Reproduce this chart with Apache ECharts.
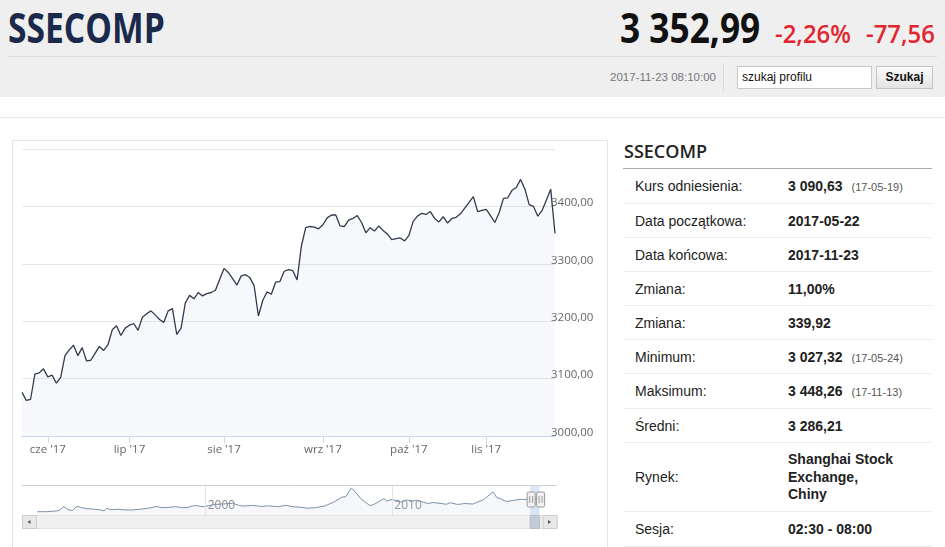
<!DOCTYPE html>
<html><head><meta charset="utf-8">
<script src="https://cdn.jsdelivr.net/npm/echarts@6/dist/echarts.min.js"></script>
<style>
html,body{margin:0;padding:0;width:945px;height:547px;overflow:hidden;background:#fff;font-family:"Liberation Sans",Arial,sans-serif;}
.abs{position:absolute;white-space:nowrap;}
#hdr{position:absolute;left:0;top:0;width:945px;height:97px;background:#efefef;}
.big{font-family:"Open Sans",sans-serif;font-weight:700;line-height:42px;font-size:42px;transform-origin:0 0;}
.red{font-family:"Open Sans",sans-serif;font-weight:600;font-size:26px;line-height:26px;color:#e2252e;transform-origin:0 0;}
.row{position:absolute;left:624px;width:308px;box-sizing:border-box;border-bottom:1px solid #ececec;display:flex;align-items:center;font-size:14px;color:#222;}
.lab{display:inline-block;width:153px;padding-left:11px;}
.val{font-weight:bold;}
.val small{font-size:11px;font-weight:normal;color:#555;margin-left:9px;}
</style></head><body>
<div id="hdr"></div>
<div class="abs big" style="left:8px;top:6px;color:#1b2a4b;transform:scaleX(0.8)">SSECOMP</div>
<div class="abs big" style="left:620px;top:6px;color:#111;transform:scaleX(0.84)">3 352,99</div>
<div class="abs red" style="left:775px;top:20px;transform:scaleX(0.92)">-2,26%</div>
<div class="abs red" style="left:866px;top:20px;transform:scaleX(0.92)">-77,56</div>
<div class="abs" style="left:8px;top:56px;width:929px;height:1px;background:#dadada"></div>
<div class="abs" style="left:610px;top:70px;font-size:11.5px;line-height:14px;color:#777">2017-11-23 08:10:00</div>
<div class="abs" style="left:723px;top:63px;width:1px;height:29px;background:#dcdcdc"></div>
<div class="abs" style="left:737px;top:66px;width:135px;height:23px;box-sizing:border-box;border:1px solid #c8c8c8;background:#fff;font-size:12px;line-height:21px;padding-left:4px;color:#111">szukaj profilu</div>
<div class="abs" style="left:876px;top:66px;width:57px;height:23px;box-sizing:border-box;border:1px solid #c4c4c4;background:linear-gradient(#fbfbfb,#e4e4e4);font-size:12px;font-weight:bold;line-height:21px;text-align:center;color:#111">Szukaj</div>
<div class="abs" style="left:0;top:117px;width:945px;height:1px;background:#e6e6e6"></div>
<div class="abs" style="left:12px;top:140px;width:596px;height:420px;box-sizing:border-box;border:1px solid #e6e6e6"></div>
<div id="chart" class="abs" style="left:12px;top:140px;width:596px;height:407px"></div>

<div class="abs" style="left:624px;top:139px;font-family:'Open Sans',sans-serif;font-weight:600;font-size:18px;line-height:24px;color:#222">SSECOMP</div>
<div class="abs" style="left:623px;top:168px;width:309px;height:1px;background:#a9a9a9"></div>
<div class="row" style="top:169px;height:35px"><span class="lab">Kurs odniesienia:</span><span class="val">3 090,63<small>(17-05-19)</small></span></div>
<div class="row" style="top:204px;height:34.3px"><span class="lab">Data początkowa:</span><span class="val">2017-05-22</span></div>
<div class="row" style="top:238.3px;height:34px"><span class="lab">Data końcowa:</span><span class="val">2017-11-23</span></div>
<div class="row" style="top:272.3px;height:33.7px"><span class="lab">Zmiana:</span><span class="val">11,00%</span></div>
<div class="row" style="top:306px;height:34px"><span class="lab">Zmiana:</span><span class="val">339,92</span></div>
<div class="row" style="top:340px;height:34.3px"><span class="lab">Minimum:</span><span class="val">3 027,32<small>(17-05-24)</small></span></div>
<div class="row" style="top:374.3px;height:34.7px"><span class="lab">Maksimum:</span><span class="val">3 448,26<small>(17-11-13)</small></span></div>
<div class="row" style="top:409px;height:34.3px"><span class="lab">Średni:</span><span class="val">3 286,21</span></div>
<div class="row" style="top:443.3px;height:69px"><span class="lab">Rynek:</span><span class="val" style="line-height:17.5px">Shanghai Stock<br>Exchange,<br>Chiny</span></div>
<div class="row" style="top:512.3px;height:34.4px"><span class="lab">Sesja:</span><span class="val">02:30 - 08:00</span></div>

<script>
const dates = [
"2017-05-22","2017-05-23","2017-05-24","2017-05-25","2017-05-26","2017-05-31",
"2017-06-01","2017-06-02","2017-06-05","2017-06-06","2017-06-07","2017-06-08","2017-06-09","2017-06-12","2017-06-13","2017-06-14",
"2017-06-15","2017-06-19","2017-06-21","2017-06-22","2017-06-23","2017-06-26","2017-06-27","2017-06-28","2017-06-29","2017-06-30",
"2017-07-03","2017-07-04","2017-07-05","2017-07-06","2017-07-07","2017-07-10","2017-07-11","2017-07-12","2017-07-13","2017-07-14",
"2017-07-17","2017-07-18","2017-07-19","2017-07-20","2017-07-21","2017-07-24","2017-07-25","2017-07-26","2017-07-27","2017-07-28","2017-07-31",
"2017-08-01","2017-08-02","2017-08-03","2017-08-04","2017-08-07","2017-08-08","2017-08-09","2017-08-10","2017-08-11","2017-08-14",
"2017-08-15","2017-08-16","2017-08-17","2017-08-18","2017-08-21","2017-08-22","2017-08-23","2017-08-24","2017-08-25","2017-08-28",
"2017-08-29","2017-08-30","2017-08-31",
"2017-09-01","2017-09-04","2017-09-05","2017-09-06","2017-09-07","2017-09-08","2017-09-11","2017-09-12","2017-09-13","2017-09-14",
"2017-09-15","2017-09-18","2017-09-19","2017-09-20","2017-09-21","2017-09-22","2017-09-25","2017-09-26","2017-09-27","2017-09-28","2017-09-29",
"2017-10-09","2017-10-10","2017-10-11","2017-10-12","2017-10-13","2017-10-16","2017-10-17","2017-10-18","2017-10-19","2017-10-20",
"2017-10-23","2017-10-24","2017-10-25","2017-10-26","2017-10-27","2017-10-30","2017-10-31",
"2017-11-01","2017-11-02","2017-11-03","2017-11-06","2017-11-07","2017-11-08","2017-11-09","2017-11-10","2017-11-13","2017-11-14",
"2017-11-15","2017-11-16","2017-11-17","2017-11-20","2017-11-21","2017-11-22","2017-11-23"
];
const closes = [
3076,3062,3064,3108,3110,3117,
3103,3106,3092,3102,3140,3150,3158,3140,3154,3131,
3132,3144,3156,3149,3159,3185,3192,3175,3188,3193,
3196,3184,3207,3213,3218,3211,3203,3198,3218,3222,
3177,3188,3232,3245,3239,3250,3244,3248,3250,3254,3273,
3292,3285,3274,3263,3279,3281,3276,3262,3209,3236,
3251,3247,3268,3269,3287,3290,3288,3272,3331,3363,
3365,3364,3361,
3368,3380,3385,3385,3366,3365,3376,3379,3384,3372,
3354,3363,3357,3366,3358,3352,3342,3344,3345,3340,3349,
3374,3383,3388,3386,3391,3379,3373,3382,3371,3379,
3381,3387,3397,3407,3417,3391,3393,
3395,3384,3372,3389,3414,3415,3428,3433,3447,3430,
3403,3400,3383,3393,3411,3430,3353
];
const monthTickIdx = [6, 25, 47, 70, 90, 108];
const monthTickLabels = ["cze '17", "lip '17", "sie '17", "wrz '17", "paź '17", "lis '17"];
const yMin = 3000, yMax = 3500, yStep = 100;

const navYears = [
1990.97,1991.5,1991.9,1992.1,1992.4,1992.6,1992.85,1993.1,1993.3,1993.6,1994.0,1994.4,1994.55,1994.7,1994.9,
1995.3,1995.5,1996.0,1996.4,1996.9,1997.4,1997.6,1998.0,1998.4,1998.7,1999.0,1999.4,1999.9,
2000.5,2000.9,2001.45,2001.8,2002.0,2002.5,2003.0,2003.3,2003.9,2004.3,2004.7,2005.1,2005.45,2005.9,
2006.4,2006.9,2007.3,2007.5,2007.8,2008.0,2008.3,2008.5,2008.8,2009.0,2009.55,2009.7,
2010.0,2010.4,2010.8,2011.1,2011.3,2011.9,2012.2,2012.9,2013.1,2013.5,2013.9,2014.3,2014.9,
2015.4,2015.6,2015.8,2015.9,2016.1,2016.5,2016.9,2017.3,2017.4,2017.6,2017.89
];
const navValues = [
127,140,290,380,1400,700,400,1500,1200,900,780,550,330,1000,650,
750,650,540,700,1000,1450,1150,1200,1400,1150,1150,1700,1400,
1950,2080,2240,1700,1550,1700,1450,1600,1400,1750,1350,1250,1000,1150,
1600,2650,3800,3900,6092,5200,3500,2700,1700,1900,3450,2800,
3250,2500,3100,2800,3000,2200,2450,2000,2400,1950,2200,2050,3200,
5170,3700,3400,3600,2700,3000,3250,3200,3100,3250,3353
];
const navYearLabels = [2000, 2010];
const navRange = [1990, 2018];
const selStart = 2017.386, selEnd = 2017.893;

const chart = echarts.init(document.getElementById('chart'));
const tickSet = new Set(monthTickIdx);
const labelByDate = {};
monthTickIdx.forEach((i, k) => { labelByDate[dates[i]] = monthTickLabels[k]; });
const lblFont = "'Open Sans', sans-serif";

chart.setOption({
  animation: false,
  grid: [
    {left: 10, top: 9, width: 533, height: 287},
    {left: 7.1, top: 346, width: 522.5, height: 29}
  ],
  xAxis: [
    {type: 'category', gridIndex: 0, data: dates, boundaryGap: false,
     axisLine: {show: true, lineStyle: {color: '#ccd6eb'}},
     axisTick: {show: true, interval: (i) => tickSet.has(i), length: 7, lineStyle: {color: '#ccd6eb'}},
     axisLabel: {interval: (i) => tickSet.has(i), formatter: (v) => labelByDate[v] || '', color: '#666', fontSize: 11.5, fontFamily: lblFont, margin: 8},
     splitLine: {show: false}},
    {type: 'value', gridIndex: 1, min: navRange[0], max: navRange[1], interval: 10,
     axisLine: {show: false}, axisTick: {show: false}, splitLine: {show: false},
     axisLabel: {inside: true, showMinLabel: false, showMaxLabel: false, align: 'left', margin: 3,
       color: '#8a8a8a', fontSize: 12, fontFamily: lblFont, padding: [0, 0, 0, 2],
       formatter: (v) => navYearLabels.includes(v) ? String(v) : ''}}
  ],
  yAxis: [
    {type: 'value', gridIndex: 0, position: 'right', min: yMin, max: yMax, interval: yStep,
     axisLine: {show: false}, axisTick: {show: false},
     splitLine: {lineStyle: {color: '#e6e6e6'}},
     axisLabel: {showMaxLabel: false, margin: -4, verticalAlign: 'bottom', lineHeight: 7,
       color: '#666', fontSize: 11.5, fontFamily: lblFont,
       formatter: (v) => v.toFixed(2).replace('.', ',')}},
    {type: 'value', gridIndex: 1, min: -700, max: 6600, show: false}
  ],
  series: [
    {type: 'line', xAxisIndex: 0, yAxisIndex: 0, data: closes, symbol: 'none',
     lineStyle: {color: '#343a4e', width: 1.3}, areaStyle: {color: 'rgba(200,210,226,0.22)', origin: 'start'}},
    {type: 'line', xAxisIndex: 1, yAxisIndex: 1, data: navYears.map((y, i) => [y, navValues[i]]), symbol: 'none',
     lineStyle: {color: '#7d91a8', width: 1}, areaStyle: {color: 'rgba(200,210,226,0.25)', origin: 'start'},
     markLine: {silent: true, symbol: 'none', label: {show: false}, lineStyle: {color: '#e3e3e3', type: 'solid', width: 1},
       data: navYearLabels.map((y) => ({xAxis: y}))},
     markArea: {silent: true, itemStyle: {color: 'rgba(175,205,240,0.45)'},
       data: [[{xAxis: selStart}, {xAxis: selEnd}]]}}
  ]
});

const xs = chart.convertToPixel({xAxisIndex: 1}, selStart);
const xe = chart.convertToPixel({xAxisIndex: 1}, selEnd);
const sbY = 375, sbH = 13, sbL = 10, sbR = 544.5, btnW = 14;
function handle(cx) {
  return [
    {type: 'rect', shape: {x: cx - 4, y: 352, width: 8, height: 15, r: 1.5}, style: {fill: '#f2f2f2', stroke: '#999', lineWidth: 1}, z: 20},
    {type: 'line', shape: {x1: cx - 1.5, y1: 356, x2: cx - 1.5, y2: 363}, style: {stroke: '#999', lineWidth: 1}, z: 21},
    {type: 'line', shape: {x1: cx + 1.5, y1: 356, x2: cx + 1.5, y2: 363}, style: {stroke: '#999', lineWidth: 1}, z: 21}
  ];
}
chart.setOption({graphic: [
  {type: 'line', shape: {x1: sbL, y1: 345.5, x2: sbR, y2: 345.5}, style: {stroke: '#cfcfcf', lineWidth: 1}, z: 10},
  {type: 'rect', shape: {x: sbL + 0.5, y: sbY + 0.5, width: sbR - sbL, height: sbH}, style: {fill: '#f0f0f0', stroke: '#e4e4e4'}, z: 10},
  {type: 'rect', shape: {x: xs, y: sbY + 0.5, width: xe - xs, height: sbH}, style: {fill: '#c2cbd7', stroke: '#b5bfcc'}, z: 11},
  {type: 'rect', shape: {x: sbL + 0.5, y: sbY + 0.5, width: btnW, height: sbH}, style: {fill: '#e8e8e8', stroke: '#cccccc'}, z: 12},
  {type: 'polygon', shape: {points: [[sbL + 5.5, sbY + 7], [sbL + 8.5, sbY + 5], [sbL + 8.5, sbY + 9]]}, style: {fill: '#555'}, z: 13},
  {type: 'rect', shape: {x: sbR - btnW + 0.5, y: sbY + 0.5, width: btnW, height: sbH}, style: {fill: '#e8e8e8', stroke: '#cccccc'}, z: 12},
  {type: 'polygon', shape: {points: [[sbR - 5.5, sbY + 7], [sbR - 8.5, sbY + 5], [sbR - 8.5, sbY + 9]]}, style: {fill: '#555'}, z: 13}
].concat(handle(xs + 1), handle(xe + 1))});
</script>
</body></html>
